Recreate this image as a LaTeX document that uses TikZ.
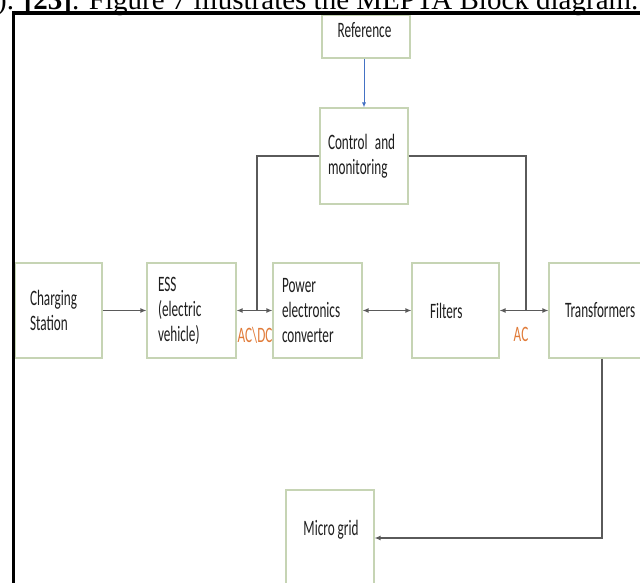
\documentclass[tikz,border=0pt]{standalone}
\usepackage{fontspec}
\setmainfont[FakeStretch=0.6]{Carlito}
\newfontfamily\capfont{Liberation Serif}
\usetikzlibrary{arrows.meta}
\definecolor{boxc}{HTML}{C6D4B4}
\definecolor{linec}{HTML}{5A5A5A}
\definecolor{refblue}{HTML}{4472C4}
\definecolor{acorange}{HTML}{E07B39}
\definecolor{txtc}{HTML}{1E1E1E}
\begin{document}
\begin{tikzpicture}[x=1pt,y=-1pt,
  blk/.style={draw=boxc, line width=1.1pt, fill=white, inner ysep=0pt,
    align=left, text=txtc, font=\fontsize{22}{25}\selectfont},
  txt/.style={inner sep=0pt, text=txtc, font=\fontsize{22}{25}\selectfont},
  lbl/.style={inner sep=0pt, text=acorange, font=\fontsize{22}{25}\selectfont},
  conn/.style={draw=linec, line width=1.4pt},
  tip/.style={-{Latex[length=6pt,width=5pt]}},
  tips/.style={{Latex[length=6pt,width=5pt]}-{Latex[length=6pt,width=5pt]}}]
\useasboundingbox (0,0) rectangle (640,583);
% caption (cut off at top)
\node[anchor=base west, inner sep=0pt, font=\capfont\fontsize{29}{30}\selectfont] (cap) at (-3,9.5)
  {). \textbf{[23]}. Figure 7 illustrates the MEPTA Block diagram.};
% boxes
\node[blk, minimum width=88pt, minimum height=43pt] (ref) at (366,36.5) {};
\node[txt] (reftxt) at (364.5,30) {Reference};
\node[blk, minimum width=88pt, minimum height=96pt, text width=72pt, inner xsep=8pt] (ctrl) at (364,156) {Control and\\monitoring};
\node[blk, minimum width=87pt, minimum height=95pt, text width=57pt, inner xsep=15pt] (chg) at (58.5,310.5) {Charging\\Station};
\node[blk, minimum width=89pt, minimum height=95pt, text width=67pt, inner xsep=11pt] (ess) at (191.5,310.5) {ESS\\(electric\\vehicle)};
\node[blk, minimum width=89pt, minimum height=95pt, text width=71pt, inner xsep=9pt] (pec) at (317.5,310.5) {Power\\electronics\\converter};
\node[blk, minimum width=87pt, minimum height=95pt, text width=51pt, inner xsep=18pt] (flt) at (455.5,310.5) {Filters};
\node[blk, minimum width=106pt, minimum height=95pt, text width=74pt, inner xsep=16pt] (trans) at (602,310.5) {Transformers};
\node[blk, minimum width=88pt, minimum height=96pt] (micro) at (330,538) {};
\node[txt] (microtxt) at (331,530) {Micro grid};
% frame
\draw[line width=4pt] (12,12.7) -- (645,12.7);
\draw[line width=2.8pt] (13.5,11) -- (13.5,590);
% junctions
\coordinate (j1) at (257,310.5);
\coordinate (j2) at (526,310.5);
% connectors
\draw[conn, tip] (chg) -- (ess);
\draw[conn, tips] (ess) -- (pec);
\draw[conn, tips] (pec) -- (flt);
\draw[conn, tips] (flt) -- (trans);
\draw[conn] (ctrl.west) -| (j1);
\draw[conn] (ctrl.east) -| (j2);
\draw[conn, tip] (trans.south) |- (micro.east);
\draw[draw=refblue, line width=0.9pt, -{Latex[length=5pt,width=4pt]}] (ctrl.north |- ref.south) -- (ctrl.north);
% labels
\node[lbl] (acdc) at (255,335) {AC\textbackslash DC};
\node[lbl] (ac) at (521,334) {AC};
\end{tikzpicture}
\end{document}
